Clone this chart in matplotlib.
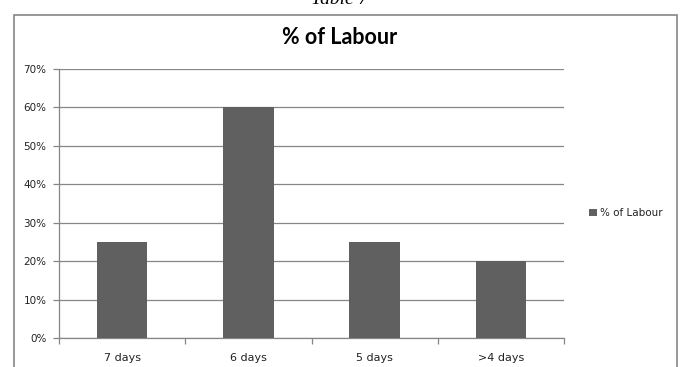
import matplotlib.pyplot as plt
from matplotlib.patches import Rectangle
from matplotlib.ticker import PercentFormatter, FixedLocator

categories = ['7 days', '6 days', '5 days', '>4 days']
labour_pct = [25, 60, 25, 20]
y_ticks = [0, 10, 20, 30, 40, 50, 60, 70]

bar_color = '#606060'
line_color = '#868686'

fig = plt.figure(figsize=(6.8, 3.67), dpi=100)
ax = fig.add_axes([59 / 680, 29 / 367, 505 / 680, 269 / 367])

x = range(len(categories))
ax.bar(x, labour_pct, width=0.4, color=bar_color, label='% of Labour', zorder=3)

ax.set_xlim(-0.5, len(categories) - 0.5)
ax.set_ylim(0, 70)
ax.set_yticks(y_ticks)
ax.yaxis.set_major_formatter(PercentFormatter(decimals=0))
ax.grid(axis='y', color=line_color, linewidth=0.9, zorder=0)

# category labels centred, tick marks on the boundaries
ax.set_xticks(list(x))
ax.set_xticklabels(categories)
ax.xaxis.set_minor_locator(FixedLocator([i + 0.5 for i in range(-1, len(categories))]))
ax.tick_params(axis='x', which='major', length=0, pad=11, labelsize=8, labelcolor='#222222')
ax.tick_params(axis='x', which='minor', length=4, color=line_color, width=0.9)
ax.tick_params(axis='y', length=4, color=line_color, width=0.9, pad=5,
               labelsize=7.5, labelcolor='#222222')

for side in ['top', 'right']:
    ax.spines[side].set_visible(False)
for side in ['left', 'bottom']:
    ax.spines[side].set_color(line_color)
    ax.spines[side].set_linewidth(0.9)

fig.text(0.5, 330 / 367, '% of Labour', ha='center', va='center',
         fontsize=15.5, fontweight='bold', family='Lato')

# chart area frame
fig.patches.append(Rectangle((14 / 680, -0.05), 663 / 680, 352 / 367 + 0.05,
                             transform=fig.transFigure, fill=False,
                             edgecolor=line_color, linewidth=1.2))

fig.text(0.5, 1.0, 'Table 7', ha='center', va='center', fontsize=14,
         style='italic', family='Liberation Serif')

fig.legend(loc='center left', bbox_to_anchor=(580 / 680, 154 / 367), frameon=False,
           fontsize=7.5, handlelength=0.7, handleheight=0.7, handletextpad=0.3,
           labelcolor='#222222')

fig.savefig('out.png', dpi=100)
